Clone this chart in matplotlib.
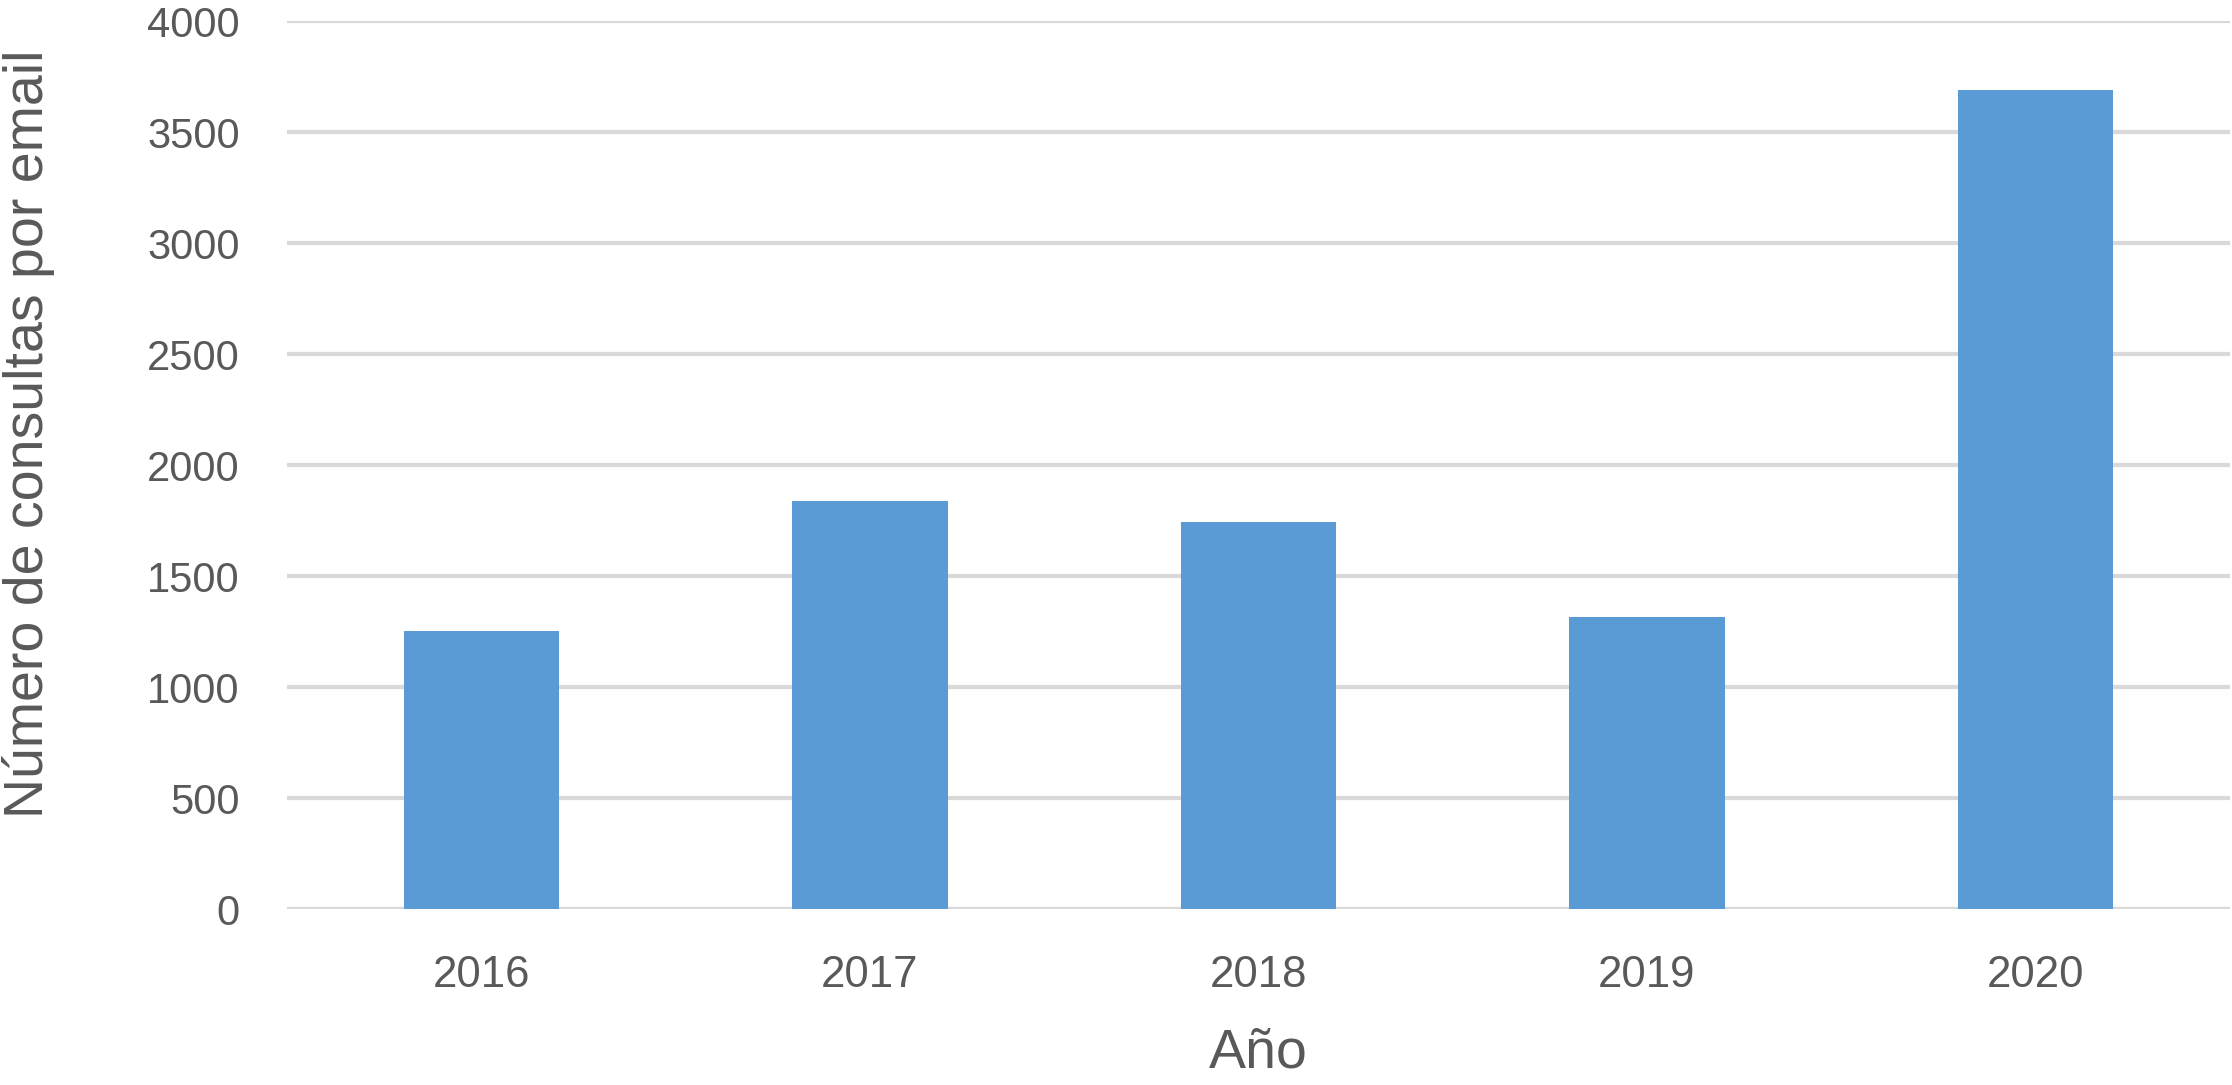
import matplotlib
matplotlib.use('Agg')
import matplotlib.pyplot as plt

years = ['2016', '2017', '2018', '2019', '2020']
consultas = [1255, 1840, 1743, 1318, 3688]
yticks = [0, 500, 1000, 1500, 2000, 2500, 3000, 3500, 4000]

TEXT = '#595959'
plt.rcParams['font.family'] = ['Liberation Sans', 'DejaVu Sans']

fig = plt.figure(figsize=(22.32, 10.85), dpi=100)
ax = fig.add_axes([0.1286, 0.1618, 0.8704, 0.8188])

x = range(len(years))
ax.bar(x, consultas, width=0.4, color='#5b9bd5', zorder=3)

ax.set_xlim(-0.5, len(years) - 0.5)
ax.set_ylim(0, 4000)
ax.set_yticks(yticks)
ax.set_xticks(list(x))
ax.set_xticklabels(years)

# light grey horizontal gridlines, no spines (Excel look)
ax.grid(axis='y', color='#d9d9d9', linewidth=3, zorder=0)
ax.axhline(0, color='#d9d9d9', linewidth=3, zorder=1)
for s in ax.spines.values():
  s.set_visible(False)
ax.tick_params(axis='both', length=0, colors=TEXT)
ax.tick_params(axis='x', labelsize=31.5, pad=33)
ax.tick_params(axis='y', labelsize=30, pad=34)

ax.set_xlabel('Año', fontsize=40, color=TEXT, va='center')
ax.xaxis.set_label_coords(0.5, -0.162)
ax.set_ylabel('Número de consultas por email', fontsize=40, color=TEXT, va='center')
ax.yaxis.set_label_coords(-0.1333, 0.535)

fig.savefig('out.png', dpi=100)
